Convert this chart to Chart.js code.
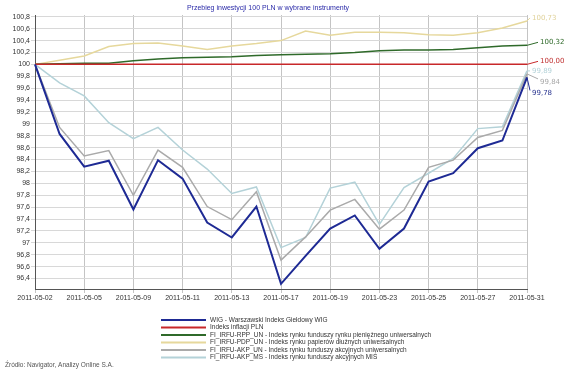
<!DOCTYPE html>
<html>
<head>
<meta charset="utf-8">
<script src="https://cdn.jsdelivr.net/npm/chart.js@4"></script>
<style>
html,body{margin:0;padding:0;background:#fff;}
#wrap{width:570px;height:376px;position:relative;}
</style>
</head>
<body>
<div id="wrap"><canvas id="c" width="570" height="376"></canvas></div>
<script>
const categories = ["2011-05-02","2011-05-04","2011-05-05","2011-05-06","2011-05-09","2011-05-10","2011-05-11","2011-05-12","2011-05-13","2011-05-16","2011-05-17","2011-05-18","2011-05-19","2011-05-20","2011-05-23","2011-05-24","2011-05-25","2011-05-26","2011-05-27","2011-05-30","2011-05-31"];
const wig    = [100,98.83,98.28,98.38,97.56,98.39,98.08,97.34,97.09,97.61,96.31,96.78,97.24,97.46,96.90,97.24,98.03,98.17,98.59,98.72,99.78];
const inflacja = [100,100,100,100,100,100,100,100,100,100,100,100,100,100,100,100,100,100,100,100,100];
const rpp    = [100,100.01,100.02,100.02,100.06,100.09,100.11,100.12,100.13,100.15,100.16,100.17,100.18,100.20,100.23,100.24,100.24,100.25,100.28,100.31,100.32];
const pdp    = [100,100.07,100.14,100.30,100.35,100.36,100.31,100.25,100.31,100.35,100.40,100.56,100.49,100.54,100.54,100.53,100.50,100.49,100.53,100.61,100.73];
const akpUn  = [100,98.94,98.46,98.55,97.80,98.56,98.27,97.61,97.39,97.86,96.71,97.10,97.55,97.73,97.23,97.55,98.27,98.39,98.77,98.89,99.84];
const akpMs  = [100,99.69,99.47,99.02,98.75,98.94,98.56,98.24,97.83,97.94,96.92,97.09,97.92,98.02,97.31,97.93,98.17,98.42,98.92,98.95,99.89];
const seriesNames = [
  "WIG - Warszawski Indeks Giełdowy WIG",
  "Indeks inflacji PLN",
  "FI_IRFU-RPP_UN - Indeks rynku funduszy rynku pieniężnego uniwersalnych",
  "FI_IRFU-PDP_UN - Indeks rynku papierów dłużnych uniwersalnych",
  "FI_IRFU-AKP_UN - Indeks rynku funduszy akcyjnych uniwersalnych",
  "FI_IRFU-AKP_MS - Indeks rynku funduszy akcyjnych MIŚ"
];
const yTickValues = [96.4,96.6,96.8,97,97.2,97.4,97.6,97.8,98,98.2,98.4,98.6,98.8,99,99.2,99.4,99.6,99.8,100,100.2,100.4,100.6,100.8];
const titleText = "Przebieg inwestycji 100 PLN w wybrane instrumenty";
const sourceText = "Źródło: Navigator, Analizy Online S.A.";

const colors = ["#1e2a94","#c8282a","#2f6a2a","#e6d89c","#aaaaaa","#b4d2d8"];
const labelColors = ["#2a3590","#c03030","#2f6a2a","#e0d29a","#a8a8a8","#b4d2d8"];
const widths = [2,1.5,1.5,1.5,1.5,1.5];
// end label offsets from last point: [dx, dy] for text left-middle
const endOffsets = [[5,16],[13,-3],[13,-3],[5,-3],[13,8],[5,0]];
const allSeries = [wig, inflacja, rpp, pdp, akpUn, akpMs];

const fmt = v => v.toFixed(2).replace('.', ',');

const extras = {
  id: 'extras',
  afterDatasetsDraw(chart) {
    const ctx = chart.ctx;
    ctx.save();
    // end labels
    ctx.font = '7px "DejaVu Sans"';
    ctx.textBaseline = 'middle';
    ctx.textAlign = 'left';
    chart.data.datasets.forEach((ds, i) => {
      const meta = chart.getDatasetMeta(i);
      const pt = meta.data[meta.data.length - 1];
      const [dx, dy] = endOffsets[i];
      const tx = pt.x + dx, ty = pt.y + dy;
      ctx.strokeStyle = colors[i];
      ctx.lineWidth = 1;
      ctx.beginPath();
      ctx.moveTo(pt.x, pt.y);
      ctx.lineTo(tx - 2, ty + (dy > 3 ? -3 : 0));
      ctx.stroke();
      ctx.fillStyle = labelColors[i];
      ctx.fillText(fmt(ds.data[ds.data.length - 1]), tx, ty);
    });
    ctx.restore();
  },
  afterDraw(chart) {
    const ctx = chart.ctx;
    ctx.save();
    // title
    ctx.font = '7px "Liberation Sans"';
    ctx.fillStyle = '#2a2aa8';
    ctx.textAlign = 'center';
    ctx.textBaseline = 'middle';
    ctx.fillText(titleText, 268, 8);
    // legend
    ctx.textAlign = 'left';
    ctx.font = '6.5px "Liberation Sans"';
    chart.data.datasets.forEach((ds, i) => {
      const y = 320 + i * 7.5;
      ctx.strokeStyle = colors[i];
      ctx.lineWidth = 2;
      ctx.beginPath();
      ctx.moveTo(161, y);
      ctx.lineTo(206, y);
      ctx.stroke();
      ctx.fillStyle = '#333333';
      ctx.fillText(ds.label, 210, y);
    });
    // source
    ctx.fillStyle = '#555555';
    ctx.font = '6.5px "Liberation Sans"';
    ctx.fillText(sourceText, 5, 365);
    ctx.restore();
  }
};

new Chart(document.getElementById('c'), {
  type: 'line',
  data: {
    labels: categories,
    datasets: allSeries.map((d, i) => ({
      label: seriesNames[i],
      data: d,
      borderColor: colors[i],
      backgroundColor: colors[i],
      borderWidth: widths[i],
      pointRadius: 0,
      tension: 0,
      fill: false
    }))
  },
  options: {
    responsive: false,
    animation: false,
    devicePixelRatio: 1,
    layout: { padding: { left: 0, right: 43, top: 15, bottom: 73 } },
    plugins: { legend: { display: false }, title: { display: false }, tooltip: { enabled: false } },
    scales: {
      x: {
        offset: false,
        grid: {
          color: c => (c.index % 2 === 0 ? '#c4c4c4' : 'rgba(0,0,0,0)'),
          tickLength: 4,
          drawTicks: true
        },
        border: { color: '#555555', width: 1 },
        ticks: {
          autoSkip: false,
          maxRotation: 0,
          minRotation: 0,
          padding: 1,
          color: '#333333',
          font: { family: 'Liberation Sans', size: 7 },
          callback: function(v, i) { return i % 2 === 0 ? this.getLabelForValue(v) : ''; }
        },
        afterFit: s => { s.height = 14; }
      },
      y: {
        min: 96.224,
        max: 100.83,
        afterBuildTicks: axis => { axis.ticks = yTickValues.map(v => ({ value: v })); },
        grid: { color: '#d8d8d8', tickLength: 4 },
        border: { color: '#555555', width: 1 },
        ticks: {
          padding: 1,
          color: '#333333',
          font: { family: 'Liberation Sans', size: 7 },
          callback: v => String(Math.round(v * 10) / 10).replace('.', ',')
        },
        afterFit: s => { s.width = 35; }
      }
    }
  },
  plugins: [extras]
});
</script>
</body>
</html>
